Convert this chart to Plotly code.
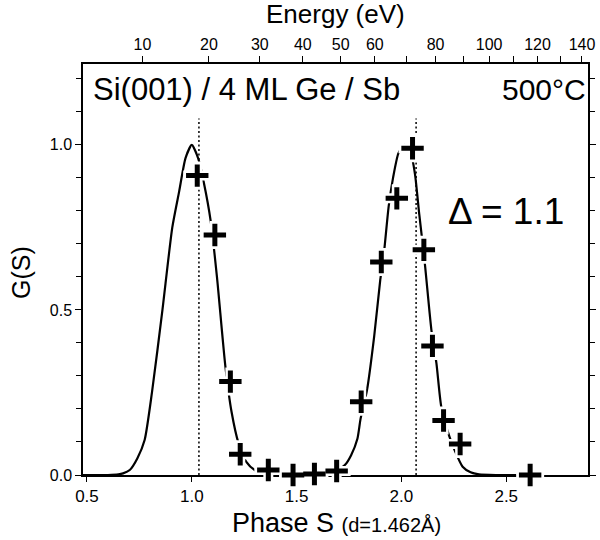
import plotly.graph_objects as go

# ---- data ----
curve_S = [0.48, 0.60, 0.65, 0.672, 0.704, 0.74, 0.775, 0.81, 0.86, 0.907, 0.94, 0.97, 1.00, 1.03,
           1.058, 1.09, 1.12, 1.16, 1.19, 1.223, 1.26, 1.30, 1.35, 1.40, 1.50, 1.60, 1.65, 1.695,
           1.73, 1.76, 1.79, 1.805, 1.836, 1.87, 1.899, 1.915, 1.939, 1.96, 1.986, 2.015, 2.045,
           2.065, 2.085, 2.111, 2.143, 2.167, 2.19, 2.229, 2.253, 2.292, 2.33, 2.37, 2.45, 2.55]
curve_G = [0.0, 0.0, 0.002, 0.005, 0.015, 0.05, 0.106, 0.25, 0.50, 0.75, 0.86, 0.96, 1.00, 0.96,
           0.884, 0.77, 0.60, 0.33, 0.19, 0.096, 0.04, 0.015, 0.003, 0.0, 0.0, 0.0, 0.002, 0.015,
           0.03, 0.06, 0.11, 0.17, 0.258, 0.42, 0.591, 0.662, 0.813, 0.90, 0.975, 1.0, 0.975,
           0.91, 0.79, 0.645, 0.439, 0.338, 0.207, 0.116, 0.076, 0.025, 0.008, 0.002, 0.0, 0.0]

meas_S = [1.026, 1.110, 1.184, 1.231, 1.365, 1.483, 1.585, 1.691, 1.808, 1.904, 1.978, 2.053,
          2.107, 2.148, 2.201, 2.280, 2.614]
meas_G = [0.907, 0.727, 0.283, 0.063, 0.015, 0.0, 0.003, 0.012, 0.222, 0.645, 0.838, 0.99,
          0.682, 0.391, 0.165, 0.094, 0.0]

bragg_S = [1.034, 2.07]          # dotted vertical reference lines

x_ticks = [0.5, 1.0, 1.5, 2.0, 2.5]
x_ticktext = ["0.5", "1.0", "1.5", "2.0", "2.5"]
y_ticks = [0.0, 0.5, 1.0]
y_ticktext = ["0.0", "0.5", "1.0"]

energy_ticks = [10, 20, 30, 40, 50, 60, 70, 80, 90, 100, 110, 120, 130, 140]
energy_labels = ["10", "20", "30", "40", "50", "60", "", "80", "", "100", "", "120", "", "140"]
energy_per_S2 = 17.1   # E (eV) = k * S^2 for d = 1.462 A

X_RANGE = [0.481, 2.89]
Y_RANGE = [0.0, 1.245]

FONT = "Liberation Sans, Arial, Helvetica, sans-serif"

energy_pos = [(e / energy_per_S2) ** 0.5 for e in energy_ticks]

fig = go.Figure()

fig.add_trace(go.Scatter(
    x=curve_S, y=curve_G, mode="lines",
    line=dict(color="black", width=2.2, shape="spline", smoothing=0.6),
    hoverinfo="skip", showlegend=False))

# white halo behind the crosses
fig.add_trace(go.Scatter(
    x=meas_S, y=meas_G, mode="markers", cliponaxis=False,
    marker=dict(symbol="cross-thin", size=20, color="white",
                line=dict(color="white", width=10)),
    hoverinfo="skip", showlegend=False))
fig.add_trace(go.Scatter(
    x=meas_S, y=meas_G, mode="markers", cliponaxis=False,
    marker=dict(symbol="cross-thin", size=16, color="black",
                line=dict(color="black", width=5)),
    showlegend=False))

# invisible trace carrying the top energy axis
fig.add_trace(go.Scatter(
    x=X_RANGE, y=[0, 0], xaxis="x2", mode="markers",
    marker=dict(opacity=0), hoverinfo="skip", showlegend=False))

for s in bragg_S:
    fig.add_shape(type="line", xref="x", yref="y", x0=s, x1=s, y0=0, y1=1.08,
                  line=dict(color="black", width=1.5, dash="2px,2.5px"), layer="below")

axis_common = dict(showgrid=False, zeroline=False, showline=True, linecolor="black",
                   linewidth=1.5, ticks="outside", tickcolor="black", tickwidth=1.2,
                   layer="below traces")

fig.update_layout(
    width=600, height=540,
    margin=dict(l=83, r=4, t=64, b=65),
    paper_bgcolor="white", plot_bgcolor="white",
    font=dict(family=FONT, color="black"),
    xaxis=dict(range=X_RANGE, autorange=False, tickmode="array", tickvals=x_ticks,
               ticktext=x_ticktext, ticklen=5, tickfont=dict(size=17), **axis_common),
    xaxis2=dict(range=X_RANGE, autorange=False, overlaying="x", side="top",
                tickmode="array", tickvals=energy_pos, ticktext=energy_labels,
                ticklen=6, tickfont=dict(size=16), **axis_common),
    yaxis=dict(range=Y_RANGE, autorange=False, tickmode="array", tickvals=y_ticks,
               ticktext=y_ticktext, ticklen=6, tickfont=dict(size=16), mirror="ticks",
               minor=dict(dtick=0.1, tick0=0, ticks="outside", ticklen=5,
                          tickcolor="black", tickwidth=1.2),
               **axis_common),
)

def px(X):
    return (X - 83) / 513.0

def py(Y):
    return (475 - Y) / 411.0

annos = [
    dict(text="Si(001) / 4 ML Ge / Sb", x=px(91), y=py(89), xanchor="left", yanchor="middle",
         font=dict(size=31)),
    dict(text="500°C", x=px(596), y=py(89), xanchor="right", yanchor="middle",
         font=dict(size=30)),
    dict(text="Δ = 1.1", x=px(513), y=py(211), xanchor="center", yanchor="middle",
         font=dict(size=37)),
    dict(text="Energy (eV)", x=px(340), y=py(14), xanchor="center", yanchor="middle",
         font=dict(size=26)),
    dict(text='Phase S <span style="font-size:20px">(d=1.462Å)</span>', x=px(341),
         y=py(523), xanchor="center", yanchor="middle", font=dict(size=27)),
    dict(text="G(S)", x=px(20), y=py(272), xanchor="center", yanchor="middle",
         textangle=-90, font=dict(size=25)),
]
for a in annos:
    fig.add_annotation(xref="paper", yref="paper", showarrow=False, **a)

fig.write_html("out.html")
